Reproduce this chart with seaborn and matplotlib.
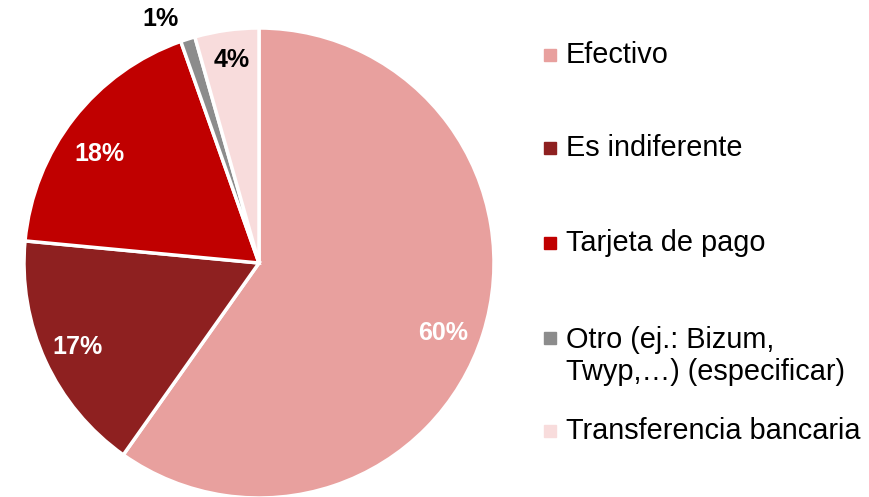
import numpy as np
import matplotlib
matplotlib.use("Agg")
import matplotlib.pyplot as plt
import seaborn as sns
from matplotlib.patches import Rectangle

categories = ["Efectivo", "Es indiferente", "Tarjeta de pago",
              "Otro (ej.: Bizum,\nTwyp,…) (especificar)", "Transferencia bancaria"]
shares = [59.8, 16.7, 18.1, 1.0, 4.4]
colors = ["#E8A09E", "#8E2020", "#C00000", "#8C8C8C", "#F8DCDC"]
label_colors = ["white", "white", "white", "black", "black"]

sns.set_theme(style="white")
plt.rcParams["font.family"] = ["Liberation Sans", "DejaVu Sans"]

fig = plt.figure(figsize=(8.69, 4.97), dpi=100)
ax = fig.add_axes([24 / 869, (497 - 263 - 235) / 497, 470 / 869, 470 / 497])

wedges, texts, autotexts = ax.pie(
    shares, colors=colors, startangle=90, counterclock=False,
    autopct=lambda p: f"{p:.0f}%", pctdistance=0.84,
    wedgeprops=dict(edgecolor="white", linewidth=2.5),
    textprops=dict(fontsize=18, fontweight="bold"))
ax.set_aspect("equal")
ax.set_xlim(-1, 1)
ax.set_ylim(-1, 1)

# label placement tweaks (angle offset in degrees, radius)
tweaks = [(-3.2, 0.84), (0.2, 0.85), (3.7, 0.82), (4.3, 1.12), (-0.3, 0.87)]
for w, t, c, (da, r) in zip(wedges, autotexts, label_colors, tweaks):
    t.set_color(c)
    t.set_clip_on(False)
    ang = np.deg2rad((w.theta1 + w.theta2) / 2 + da)
    t.set_position((r * np.cos(ang), r * np.sin(ang)))

# legend, drawn by hand to keep the original spacing
rows_y = [55, 148, 243, 356, 431]
box_y = [55, 148, 243, 338, 431]
for lab, col, ty, by in zip(categories, colors, rows_y, box_y):
    fig.patches.append(Rectangle((544 / 869, 1 - (by + 6) / 497), 12 / 869, 12 / 497,
                                 transform=fig.transFigure, color=col))
    fig.text(566 / 869, 1 - ty / 497, lab, fontsize=20.8, va="center", ha="left",
             color="black", linespacing=1.2)

fig.savefig("out.png", dpi=100)
